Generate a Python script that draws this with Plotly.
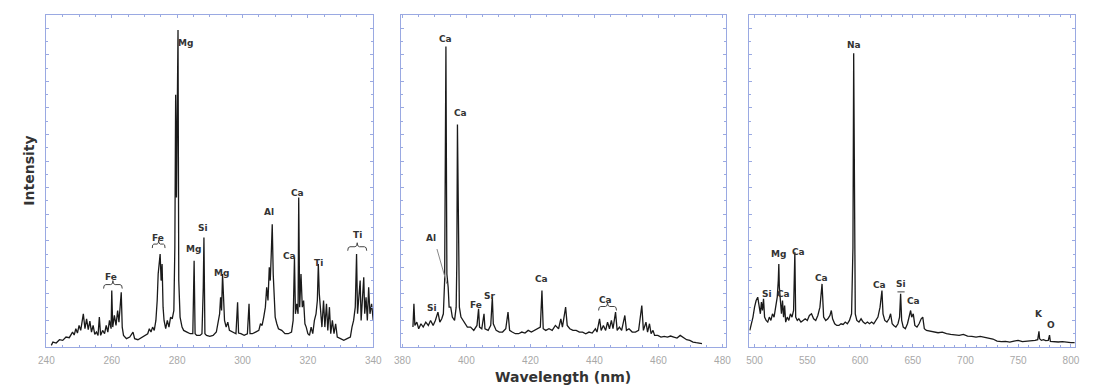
import plotly.graph_objects as go

# ---------------- data (wavelength nm, relative intensity 0-100) ----------------
wl_uv = [241.5, 242, 243, 244, 245, 246, 247, 248, 248.5, 249, 249.5, 250, 250.5, 251.3, 251.8,
         252.3, 252.8, 253.3, 253.8, 254.3, 254.8, 255.3, 255.8, 256.2, 256.6, 257.2, 257.8, 258.3,
         258.8, 259.3, 259.8, 260.0, 260.3, 260.8, 261.3, 261.8, 262.2, 262.6, 262.9, 263.2, 263.6,
         264.5, 265.5, 266.5, 267.0, 268, 269, 270, 271, 271.5, 272, 272.5, 273, 273.5, 273.9, 274.2,
         274.5, 274.8, 275.1, 275.4, 275.7, 276.0, 276.5, 277, 277.5, 278, 278.5, 279, 279.3, 279.55,
         279.8, 280.0, 280.27, 280.5, 280.9, 281.5, 282, 283, 284, 284.8, 285.2, 285.5, 286, 287,
         287.6, 288.0, 288.2, 288.5, 289, 290, 291, 292, 292.5, 293, 293.3, 293.6, 293.9, 294.2, 294.5,
         295, 295.5, 296, 297, 298, 298.5, 298.8, 299.5, 300.5, 301.5, 302.0, 302.3, 303, 304, 305,
         305.5, 306, 306.5, 307, 307.4, 307.8, 308.2, 308.5, 308.8, 309.1, 309.4, 309.7, 310, 310.5,
         311, 312, 313, 314, 315, 315.5, 315.9, 316.2, 316.6, 317.0, 317.2, 317.5, 317.9, 318.3, 318.7,
         319.1, 319.5, 320, 320.5, 321, 321.5, 322, 322.5, 322.9, 323.2, 323.5, 323.9, 324.3, 324.8,
         325.2, 325.7, 326.1, 326.6, 327.0, 327.5, 328, 328.5, 329, 330, 331, 332, 333, 333.5, 334,
         334.5, 334.9, 335.2, 335.6, 336.0, 336.3, 336.7, 337.1, 337.4, 337.8, 338.2, 338.6, 339,
         339.5, 340]
int_uv = [0.5, 1.5, 1.2, 2.2, 2.0, 3.0, 2.8, 4.5, 3.6, 5.5, 4.2, 6.5, 5.0, 10.0, 5.5,
          8.5, 5.2, 7.8, 4.5, 6.5, 3.8, 4.5, 3.5, 9.0, 3.5, 5.0, 4.0, 6.5,
          4.5, 8.0, 5.5, 17.0, 6.0, 9.5, 6.5, 11.0, 7.5, 11.5, 16.5, 6.0, 3.5,
          2.5, 3.0, 4.5, 2.5, 2.2, 2.8, 3.2, 4.0, 5.5, 4.5, 6.0, 5.0, 8.0, 14.0, 22.0,
          26.0, 28.0, 20.0, 25.0, 12.0, 8.0, 5.5, 8.0, 6.0, 9.0, 8.5, 11.0, 30.0, 76.0,
          45.0, 70.0, 95.5, 20.0, 9.0, 6.0, 5.0, 4.5, 4.0, 4.0, 26.0, 4.0, 3.5, 3.5,
          4.0, 18.0, 33.0, 4.0, 3.5, 3.2, 3.5, 4.5, 7.0, 10.0, 15.0, 11.0, 22.0, 14.0, 8.0,
          6.0, 7.5, 5.0, 4.5, 4.0, 13.5, 4.2, 4.0, 3.5, 4.0, 13.0, 4.0, 4.0, 4.5, 5.0,
          7.0, 6.5, 9.0, 12.0, 18.0, 14.0, 24.0, 20.0, 28.0, 37.0, 22.0, 14.0, 9.0, 7.0,
          5.5, 5.0, 4.0, 4.0, 4.5, 8.0, 27.0, 10.0, 13.0, 10.0, 45.0, 12.0, 22.0, 12.0, 14.0,
          7.0, 6.0, 4.0, 3.5, 6.0, 4.0, 8.0, 10.0, 14.0, 25.0, 16.0, 12.0, 6.0, 14.0,
          6.0, 13.0, 5.0, 12.0, 4.0, 8.0, 4.0, 7.0, 3.0, 2.5, 2.0, 2.5, 3.0, 6.0, 8.0,
          12.0, 28.0, 10.0, 16.0, 20.0, 8.0, 14.0, 21.0, 10.0, 15.0, 8.0, 18.0, 10.0,
          13.0, 8.0]

wl_vis = [383.3, 383.6, 383.9, 384.5, 385.1, 385.8, 386.5, 387.3, 388.1, 388.8, 389.6, 390.3,
          391.1, 391.7, 392.3, 392.8, 393.2, 393.6, 393.9, 394.3, 394.6, 395.1, 395.6, 396.3,
          396.8, 397.0, 397.2, 397.5, 397.8, 398.3, 399.3, 400.3, 401.3, 402.3, 403.3, 403.8,
          404.1, 404.8, 405.5, 405.8, 406.8, 407.6, 408.1, 408.4, 409.3, 410.3, 411.3, 412.3,
          413.0, 413.5, 414.3, 415.3, 416.3, 417.3, 418.3, 419.3, 420.3, 421.3, 422.3, 423.1,
          423.6, 424.0, 424.8, 425.8, 426.8, 427.8, 428.8, 429.5, 430.0, 431.0, 431.5, 432.3,
          433.3, 434.3, 435.3, 436.3, 437.3, 438.3, 439.3, 440.3, 440.8, 441.6, 442.1, 442.8,
          443.5, 444.1, 444.7, 445.3, 445.8, 446.6, 447.1, 447.8, 448.5, 449.5, 450.0, 450.8,
          451.8, 452.8, 453.8, 454.8, 455.3, 456.1, 456.6, 457.2, 457.7, 458.3, 458.8, 459.8,
          460.8, 461.8, 462.8, 463.8, 464.8, 465.8, 466.8, 467.8, 468.8, 469.8, 470.8, 471.8,
          472.8, 473.6]
int_vis = [6.0, 13.0, 6.5, 7.5, 5.5, 7.0, 6.0, 7.5, 6.5, 8.0, 6.5, 8.0,
           10.5, 7.5, 8.5, 10.0, 20.0, 90.5, 22.0, 18.0, 12.0, 12.0, 9.0, 8.0,
           12.0, 25.0, 67.0, 25.0, 12.0, 9.0, 7.5, 6.0, 6.0, 5.0, 6.5, 11.5,
           6.0, 5.5, 10.0, 5.5, 5.0, 6.5, 15.0, 7.0, 5.0, 4.5, 4.5, 5.5,
           10.5, 5.0, 4.5, 4.0, 4.0, 4.5, 4.2, 5.0, 4.5, 5.0, 5.5, 6.0,
           17.0, 5.5, 5.0, 5.5, 5.0, 6.5, 5.5, 8.5, 6.0, 12.0, 6.5, 5.5,
           5.0, 5.0, 4.5, 4.5, 4.0, 4.5, 4.2, 5.5, 4.5, 8.5, 5.0, 6.5,
           5.0, 7.5, 5.5, 8.0, 5.5, 10.5, 5.0, 6.0, 5.0, 9.5, 5.0, 5.5,
           4.5, 4.5, 5.0, 12.5, 5.0, 7.5, 4.5, 7.0, 4.0, 5.0, 3.5, 3.5,
           3.0, 3.2, 3.0, 3.3, 3.0, 2.7, 3.5, 2.8, 2.2, 2.0, 1.5, 1.3,
           1.2, 1.0]

wl_nir = [495.5, 497, 498.5, 500, 501.5, 503, 504.5, 505.5, 506.5, 507.5, 508.5, 509.5, 511,
          512.5, 514, 515.5, 517, 518.5, 520, 521.5, 522.5, 523, 523.5, 524.5, 525.5, 526.5,
          527.5, 528.5, 529.5, 531, 532.5, 534, 535.5, 537, 538.2, 539, 540.5, 542, 544, 546,
          548, 550, 552, 554, 556, 558, 560, 562, 564, 565.5, 567.5, 569.5, 571.5, 572.8, 574,
          576, 578, 580, 582, 584, 586, 588, 590, 592, 593.3, 594, 594.7, 595.5, 597, 599, 601,
          603, 605, 607, 609, 611, 613, 615, 617, 619, 620.8, 621.8, 623.5, 625.5, 627.5, 629,
          630.5, 632, 634, 636, 637.5, 638.5, 639.5, 641, 643, 645, 647, 648, 649, 650.5, 652,
          654, 656, 658, 659.5, 661, 663, 666, 670, 674, 678, 682, 686, 690, 694, 698, 702, 706,
          710, 714, 718, 722, 726, 730, 734, 738, 742, 746, 750, 754, 758, 762, 766, 768.5,
          769.7, 770.3, 772, 774, 776, 778.5, 779.7, 780.5, 784, 788, 792, 796, 800, 803.5]
int_nir = [5.0, 7.0, 9.0, 12.0, 14.0, 15.0, 12.0, 10.0, 13.5, 11.0, 14.5, 9.0, 8.0,
           7.5, 9.0, 8.0, 10.0, 9.0, 12.0, 15.0, 20.0, 25.0, 18.0, 12.0, 10.0, 14.0,
           9.0, 12.5, 7.5, 9.0, 8.0, 10.0, 9.0, 11.0, 28.5, 9.0, 8.0, 8.5, 7.5, 8.0,
           8.5, 8.0, 9.5, 10.0, 8.5, 8.0, 9.5, 12.0, 19.0, 9.0, 8.0, 8.5, 9.5, 11.0, 8.5,
           7.0, 6.5, 6.5, 7.0, 6.8, 7.5, 7.0, 8.0, 10.0, 30.0, 88.5, 25.0, 10.0, 8.0, 7.5, 8.5,
           7.5, 7.0, 7.5, 7.0, 7.5, 7.0, 8.0, 9.0, 12.0, 17.0, 10.0, 8.0, 7.5, 8.5, 10.0,
           7.0, 6.5, 6.0, 7.0, 9.0, 16.0, 8.0, 6.0, 5.5, 7.0, 10.0, 11.0, 9.0, 10.0, 6.5,
           6.0, 7.0, 8.5, 9.0, 5.5, 5.0, 4.8, 4.5, 4.3, 4.5, 4.0, 3.8, 3.6, 3.5, 3.8, 3.3, 3.2,
           3.0, 3.2, 3.0, 2.8, 2.4, 1.8, 1.6, 1.7, 1.5, 1.8, 2.0, 1.6, 1.7, 1.8, 2.0, 2.2,
           4.7, 2.5, 2.0, 2.2, 1.9, 2.0, 3.6, 1.7, 1.6, 1.5, 1.6, 1.4, 1.3, 1.3]

# element labels: (text, wavelength, intensity)
labels_uv = [("Fe", 259.9, 21.1), ("Fe", 274.3, 32.8), ("Mg", 282.5, 91.6), ("Mg", 285.0, 29.5),
             ("Si", 287.8, 35.8), ("Mg", 293.6, 22.3), ("Al", 308.1, 40.7), ("Ca", 316.9, 46.5),
             ("Ca", 314.4, 27.4), ("Ti", 323.4, 25.3), ("Ti", 335.2, 33.7)]
labels_vis = [("Ca", 393.6, 92.8), ("Ca", 398.0, 70.5), ("Al", 389.0, 32.8), ("Si", 389.3, 11.7),
              ("Fe", 402.9, 12.7), ("Sr", 407.2, 15.4), ("Ca", 423.5, 20.5), ("Ca", 443.5, 14.2)]
labels_nir = [("Na", 594.1, 91.0), ("Mg", 522.4, 28.0), ("Ca", 541.9, 28.6), ("Si", 512.0, 16.0),
              ("Ca", 527.0, 16.0), ("Ca", 563.4, 20.8), ("Ca", 618.4, 18.7), ("Si", 638.9, 19.0),
              ("Ca", 651.0, 13.9), ("K", 769.3, 10.0), ("O", 781.4, 6.6)]
# braces: (axis index, x0, x1, y)
braces = [(1, 257.5, 263.2, 17.6), (1, 272.4, 276.3, 29.8), (1, 332.2, 338.0, 29.0),
          (2, 441.3, 446.9, 11.0)]

# ---------------- figure ----------------
W, H = 1093, 387
ytop, ybot = 15, 347
boxes = [(39, 371, [240, 340], 20, 5), (399, 729, [379.5, 481], 20, 5),
         (753, 1084, [495, 804], 50, 10)]

fig = go.Figure()
series = [(wl_uv, int_uv), (wl_vis, int_vis), (wl_nir, int_nir)]
for k, (xs, ys) in enumerate(series):
    ax = "" if k == 0 else str(k + 1)
    fig.add_trace(go.Scatter(x=xs, y=ys, mode="lines", line=dict(color="#1a1a1a", width=1.3),
                             xaxis="x" + ax, yaxis="y" + ax, showlegend=False, hoverinfo="skip"))

frame = "#9aa9e2"
for k, (x0, x1, rng, dt, mdt) in enumerate(boxes):
    suffix = "" if k == 0 else str(k + 1)
    fig.update_layout(**{
        "xaxis" + suffix: dict(domain=[x0 / W, x1 / W], range=rng, anchor="y" + suffix, dtick=dt,
                               tick0=0, ticks="inside", ticklen=3, tickcolor=frame, showline=True,
                               linecolor=frame, linewidth=1, mirror="ticks", showgrid=False,
                               zeroline=False, ticklabelstandoff=4,
                               minor=dict(dtick=mdt, ticks="inside", ticklen=2, tickcolor=frame),
                               tickfont=dict(family="Liberation Sans", size=10, color="#a8a8a8")),
        "yaxis" + suffix: dict(domain=[(H - ybot) / H, (H - ytop) / H], range=[0, 100],
                               anchor="x" + suffix, showticklabels=False, ticks="inside", ticklen=3,
                               dtick=8, tickcolor=frame, showline=True, linecolor=frame,
                               linewidth=1, mirror="ticks", showgrid=False, zeroline=False,
                               minor=dict(dtick=4, ticks="inside", ticklen=2, tickcolor=frame)),
    })

ann = []
for k, labs in enumerate([labels_uv, labels_vis, labels_nir]):
    suffix = "" if k == 0 else str(k + 1)
    for t, xw, yi in labs:
        ann.append(dict(text="<b>%s</b>" % t, x=xw, y=yi, xref="x" + suffix, yref="y" + suffix,
                        showarrow=False, font=dict(family="DejaVu Sans", size=9, color="#333333")))
ann.append(dict(text="<b>Intensity</b>", x=21 / W, y=1 - 171 / H, xref="paper", yref="paper",
                xanchor="center", yanchor="middle",
                showarrow=False, textangle=-90, font=dict(family="DejaVu Sans", size=14, color="#333333")))
ann.append(dict(text="<b>Wavelength (nm)</b>", x=564 / W, y=1 - 377 / H, xref="paper", yref="paper",
                xanchor="center", yanchor="middle",
                showarrow=False, font=dict(family="DejaVu Sans", size=14, color="#333333")))

shapes = []
for ai, b0, b1, yb in braces:
    suffix = "" if ai == 1 else str(ai)
    xm = (b0 + b1) / 2
    d = 1.2
    e = (b1 - b0) * 0.12
    path = ("M %f,%f Q %f,%f %f,%f L %f,%f Q %f,%f %f,%f Q %f,%f %f,%f L %f,%f Q %f,%f %f,%f" % (
        b0, yb, b0, yb + d, b0 + e, yb + d, xm - e, yb + d, xm, yb + d, xm, yb + 2 * d,
        xm, yb + d, xm + e, yb + d, b1 - e, yb + d, b1, yb + d, b1, yb))
    shapes.append(dict(type="path", path=path, xref="x" + suffix, yref="y" + suffix,
                       line=dict(color="#444444", width=1)))
# Al pointer line in the middle panel and Si bar in right panel
shapes.append(dict(type="line", x0=390.8, y0=29.5, x1=393.9, y1=19.0, xref="x2", yref="y2",
                   line=dict(color="#888888", width=1)))
shapes.append(dict(type="line", x0=635.5, y0=16.6, x1=642.3, y1=16.6, xref="x3", yref="y3",
                   line=dict(color="#444444", width=1)))

fig.update_layout(width=W, height=H, autosize=False, margin=dict(l=0, r=0, t=0, b=0),
                  paper_bgcolor="white", plot_bgcolor="white", annotations=ann, shapes=shapes)
fig.write_html("out.html", config={"displayModeBar": False, "responsive": False},
               post_script="document.body.style.margin='0px';document.body.style.overflow='hidden';")
